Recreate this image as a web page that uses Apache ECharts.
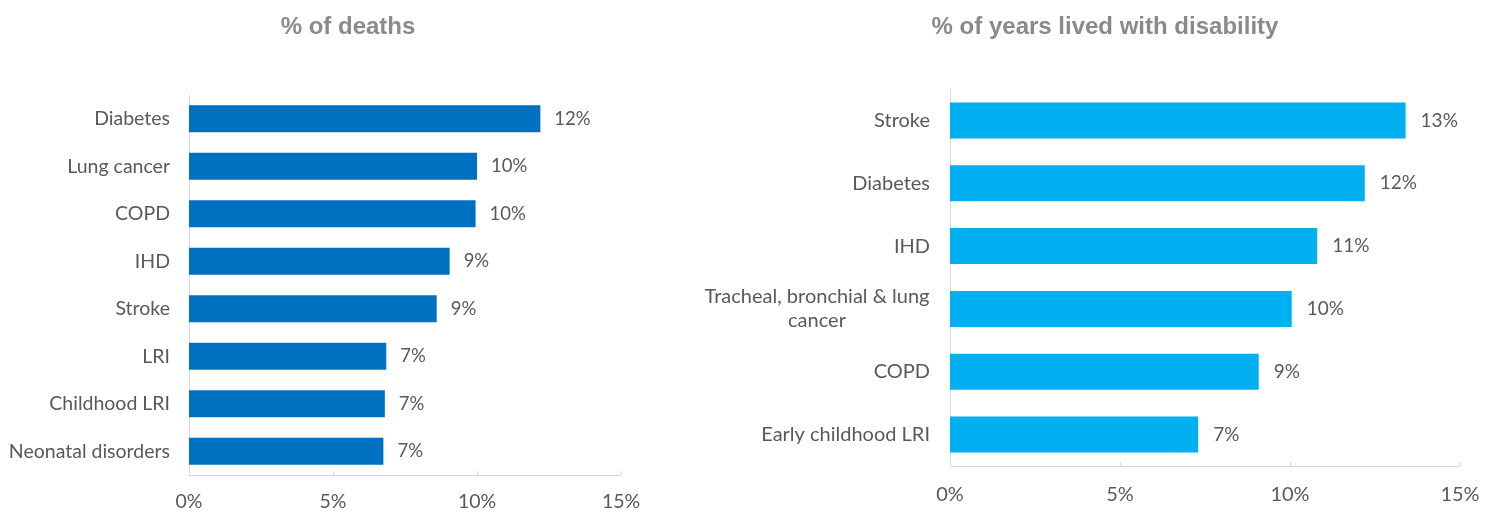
<!DOCTYPE html>
<html><head><meta charset="utf-8">
<script src="https://cdn.jsdelivr.net/npm/echarts@6/dist/echarts.min.js"></script>
<style>html,body{margin:0;padding:0;background:#fff}#c{width:1493px;height:513px}</style>
</head><body><div id="c"></div>
<script>
const deathCategories = ['Diabetes','Lung cancer','COPD','IHD','Stroke','LRI','Childhood LRI','Neonatal disorders'];
const deathValues = [12.2, 10.0, 9.95, 9.05, 8.6, 6.85, 6.8, 6.75];
const yldCategories = ['Stroke','Diabetes','IHD','Tracheal, bronchial & lung cancer','COPD','Early childhood LRI'];
const yldValues = [13.4, 12.2, 10.8, 10.05, 9.08, 7.3];
const xTicks = [0, 5, 10, 15];

const chart = echarts.init(document.getElementById('c'));
const font = 'Lato';
const gray = '#595959';
const lineGray = '#d9d9d9';
function xAxis(idx, margin, fs){
  return {gridIndex: idx, type:'value', min: xTicks[0], max: xTicks[xTicks.length-1], interval: xTicks[1]-xTicks[0],
    axisLine:{show:true, lineStyle:{color:lineGray}}, axisTick:{show:true, length:4, inside:true, lineStyle:{color:lineGray}},
    splitLine:{show:false},
    axisLabel:{color:gray, fontFamily:font, fontSize:fs, margin: margin, formatter: v => v + '%'}};
}
function yAxis(idx, cats, fs, margin){
  return {gridIndex: idx, type:'category', inverse:true, data: cats,
    axisLine:{show:true, lineStyle:{color:lineGray}}, axisTick:{show:false},
    axisLabel:{color:gray, fontFamily:font, fontSize:fs, margin: margin, lineHeight: 24,
      formatter: v => v === 'Tracheal, bronchial & lung cancer' ? '{c|Tracheal, bronchial & lung}\n{c|cancer}' : v,
      rich:{c:{width:226, align:'center', color:gray, fontFamily:font, fontSize:fs, lineHeight:24}}}};
}
function barSeries(idx, vals, color, w, fs, dist){
  return {type:'bar', xAxisIndex: idx, yAxisIndex: idx, data: vals, barWidth: w,
    itemStyle:{color: color}, silent:true,
    label:{show:true, position:'right', distance: dist, color: gray, fontFamily: font, fontSize: fs,
      formatter: p => Math.round(p.value) + '%'}};
}
const titleStyle = {fontFamily:'Liberation Sans, Arial', fontWeight:'bold', fontSize:24, color:'#8a8a8a'};
chart.setOption({
  animation:false,
  title:[
    {text:'% of deaths', left:343, top:10, textAlign:'center', textStyle:titleStyle},
    {text:'% of years lived with disability', left:1100, top:10, textAlign:'center', textStyle:titleStyle}
  ],
  grid:[
    {left:189, right:1493-621, top:95, bottom:513-475},
    {left:950, right:1493-1460, top:89, bottom:513-466}
  ],
  xAxis:[xAxis(0, 17, 19.5), xAxis(1, 19, 20)],
  yAxis:[yAxis(0, deathCategories, 19.5, 19), yAxis(1, yldCategories, 20, 20)],
  series:[barSeries(0, deathValues, '#0070c0', 27, 18.5, 14), barSeries(1, yldValues, '#00b0f0', 36, 19, 15)]
});
</script></body></html>
